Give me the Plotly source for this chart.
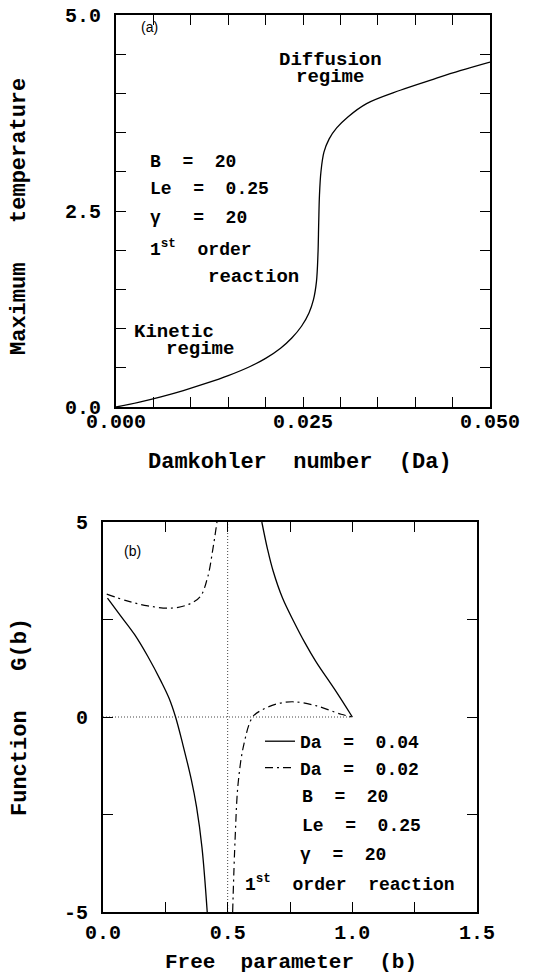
import plotly.graph_objects as go

# ---------- data: panel (a) ----------
da_values = [0.0, 0.003, 0.006, 0.009, 0.012, 0.015, 0.018, 0.020, 0.022, 0.0235,
             0.0248, 0.0258, 0.0264, 0.0268, 0.0270, 0.0271, 0.0272, 0.0274,
             0.0278, 0.0285, 0.0295, 0.0310, 0.0335, 0.0380, 0.0424, 0.0460, 0.0500]
t_max = [0.0, 0.06, 0.13, 0.21, 0.30, 0.40, 0.52, 0.62, 0.75, 0.88,
         1.03, 1.20, 1.37, 1.60, 1.95, 2.35, 2.70, 3.00,
         3.25, 3.42, 3.56, 3.70, 3.87, 4.04, 4.18, 4.29, 4.40]

# ---------- data: panel (b) ----------
b_da04 = [0.018, 0.07, 0.127, 0.18, 0.234, 0.265, 0.291, 0.32, 0.354, 0.375, 0.397, 0.418, None,
          0.637, 0.66, 0.682, 0.72, 0.765, 0.81, 0.854, 0.93, 1.0]
g_da04 = [3.05, 2.6, 2.11, 1.55, 0.9, 0.48, 0.0, -0.7, -1.6, -2.3, -3.35, -5.0, None,
          5.0, 4.3, 3.75, 3.05, 2.45, 1.9, 1.42, 0.7, 0.0]

b_da02 = [0.015, 0.10, 0.18, 0.27, 0.34, 0.389, 0.42, 0.44, 0.457, None,
          0.52, 0.53, 0.542, 0.565, 0.60, 0.637, 0.70, 0.765, 0.854, 0.955, 1.0]
g_da02 = [3.15, 2.97, 2.85, 2.79, 2.88, 3.08, 3.59, 4.28, 5.0, None,
          -5.0, -3.1, -1.7, -0.7, 0.0, 0.18, 0.34, 0.39, 0.29, 0.07, 0.0]

zero_line_b = [0.0, 1.0]
zero_line_g = [0.0, 0.0]
pole_line_b = [0.5, 0.5]
pole_line_g = [-5.0, 5.0]

# ---------- tick labels ----------
a_xtick_vals = [0.0, 0.025, 0.050]
a_xtick_text = ["0.000", "0.025", "0.050"]
a_ytick_vals = [0.0, 2.5, 5.0]
a_ytick_text = ["0.0", "2.5", "5.0"]
b_xtick_vals = [0.0, 0.5, 1.0, 1.5]
b_xtick_text = ["0.0", "0.5", "1.0", "1.5"]
b_ytick_vals = [-5.0, 0.0, 5.0]
b_ytick_text = ["-5", "0", "5"]

W, H = 548, 974
OFF = 8  # default page margin around the figure
MONO = "Liberation Mono"
BOLD = dict(family=MONO, size=18, color="black", weight="bold")

fig = go.Figure()

fig.add_trace(go.Scatter(x=da_values, y=t_max, mode="lines", xaxis="x", yaxis="y",
                         line=dict(color="black", width=1.3, shape="spline", smoothing=1.0),
                         showlegend=False))

fig.add_trace(go.Scatter(x=zero_line_b, y=zero_line_g, mode="lines", xaxis="x2", yaxis="y2",
                         line=dict(color="#444", width=1, dash="1px,2px"), showlegend=False))
fig.add_trace(go.Scatter(x=pole_line_b, y=pole_line_g, mode="lines", xaxis="x2", yaxis="y2",
                         line=dict(color="#444", width=1, dash="1px,2px"), showlegend=False))

fig.add_trace(go.Scatter(x=b_da04, y=g_da04, mode="lines", xaxis="x2", yaxis="y2",
                         name="Da  =  0.04", connectgaps=False,
                         line=dict(color="black", width=1.3, shape="spline", smoothing=1.0)))
fig.add_trace(go.Scatter(x=b_da02, y=g_da02, mode="lines", xaxis="x2", yaxis="y2",
                         name="Da  =  0.02", connectgaps=False,
                         line=dict(color="black", width=1.2, shape="spline", smoothing=1.0,
                                   dash="8px,4px,2px,4px")))

def px_x(p):
    return (p - OFF) / W

def px_y(p):
    return 1 - (p - OFF) / H

axis_common = dict(showline=True, linecolor="black", linewidth=1.8, mirror="ticks",
                   ticks="inside", ticklen=10, tickwidth=1.4, tickcolor="black",
                   showgrid=False, zeroline=False, tickmode="array", automargin=False,
                   ticklabeloverflow="allow",
                   tickfont=dict(family=MONO, size=20, color="black", weight="bold"))

def minor(step):
    return dict(dtick=step, ticks="inside", ticklen=10, tickwidth=1.4, tickcolor="black",
                showgrid=False)

fig.update_layout(
    width=W, height=H, margin=dict(l=0, r=0, t=0, b=0),
    paper_bgcolor="white", plot_bgcolor="white",
    xaxis=dict(domain=[px_x(116), px_x(490)], anchor="y", range=[0, 0.05],
               tickvals=a_xtick_vals, ticktext=a_xtick_text, ticklabelstandoff=-5,
               minor=minor(0.005), **axis_common),
    yaxis=dict(domain=[px_y(407), px_y(15)], anchor="x", range=[0, 5],
               tickvals=a_ytick_vals, ticktext=a_ytick_text, ticklabelstandoff=9,
               minor=minor(0.5), **axis_common),
    xaxis2=dict(domain=[px_x(103), px_x(477)], anchor="y2", range=[0, 1.5],
                tickvals=b_xtick_vals, ticktext=b_xtick_text, ticklabelstandoff=1,
                minor=minor(0.25), **axis_common),
    yaxis2=dict(domain=[px_y(912), px_y(522)], anchor="x2", range=[-5, 5],
                tickvals=b_ytick_vals, ticktext=b_ytick_text, ticklabelstandoff=9,
                minor=minor(2.5), **axis_common),
    legend=dict(x=px_x(260), y=px_y(723), xanchor="left", yanchor="top",
                bgcolor="rgba(0,0,0,0)", font=BOLD, itemwidth=30, tracegroupgap=0),
    showlegend=True,
)

def note(text, x, y, xanchor="left", size=18, family=MONO, weight="bold", angle=0):
    fig.add_annotation(text=text, x=px_x(x), y=px_y(y), xref="paper", yref="paper",
                       xanchor=xanchor, yanchor="middle", showarrow=False, textangle=angle,
                       font=dict(family=family, size=size, color="black", weight=weight))

# axis titles
note("Damkohler  number  (Da)", 300, 463, xanchor="center", size=22)
note("Maximum   temperature", 20, 217, xanchor="center", size=22, angle=-90)
note("Free  parameter  (b)", 291, 962, xanchor="center", size=21)
note("Function   G(b)", 20, 717, xanchor="center", size=22, angle=-90)

# panel (a) text
note("(a)", 139, 27, size=14, family="Liberation Sans", weight="normal")
note("Diffusion", 330, 60, xanchor="center", size=19)
note("regime", 330, 77, xanchor="center", size=19)
note("B  =  20", 148, 162)
note("Le  =  0.25", 148, 189)
note("\u03b3   =  20", 148, 218)
note("1<sup>st</sup>  order", 148, 248)
note("reaction", 206, 277, size=19)
note("Kinetic", 132, 332, size=19)
note("regime", 164, 349, size=19)

# panel (b) text
note("(b)", 122, 551, size=14, family="Liberation Sans", weight="normal")
note("B  =  20", 300, 797)
note("Le  =  0.25", 300, 826)
note("\u03b3  =  20", 298, 855)
note("1<sup>st</sup>  order  reaction", 243, 883)

fig.write_html("out.html")
